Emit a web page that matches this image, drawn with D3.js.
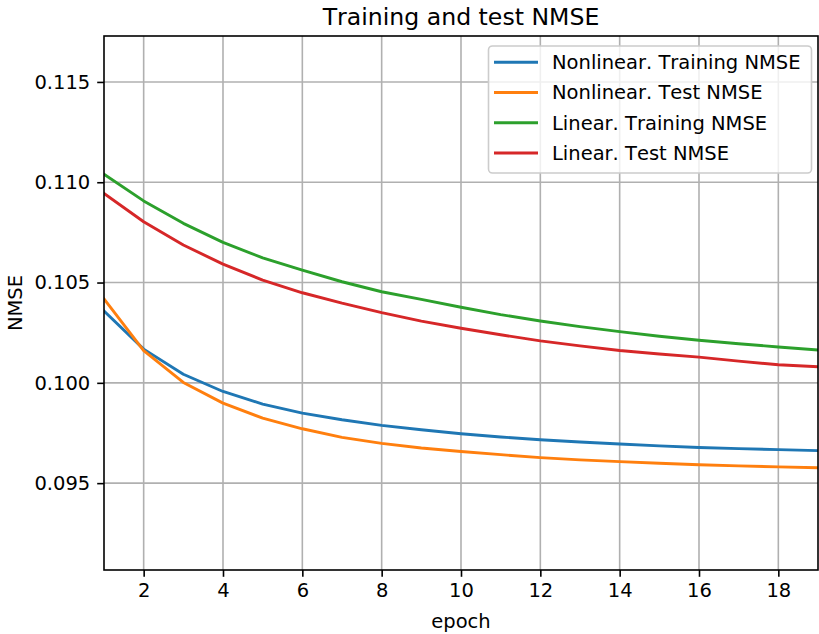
<!DOCTYPE html>
<html>
<head>
<meta charset="utf-8">
<script src="https://cdn.jsdelivr.net/npm/d3@7"></script>
<style>
  html, body { margin: 0; padding: 0; background: #fff; }
  svg { display: block; font-family: "DejaVu Sans", sans-serif; font-kerning: none; }
</style>
</head>
<body>
<svg id="chart" width="819" height="634"></svg>
<script>
// Epochs and per-epoch NMSE for each model / split
const epochs = [1, 2, 3, 4, 5, 6, 7, 8, 9, 10, 11, 12, 13, 14, 15, 16, 17, 18, 19];
const nonlinearTrain = [0.10358, 0.10168, 0.10043, 0.09957, 0.09894, 0.09849, 0.09816, 0.09788, 0.09766, 0.09746,
                        0.09730, 0.09716, 0.09705, 0.09695, 0.09686, 0.09678, 0.09672, 0.09667, 0.09662];
const nonlinearTest  = [0.10418, 0.10161, 0.10002, 0.09899, 0.09824, 0.09771, 0.09728, 0.09698, 0.09675, 0.09658,
                        0.09642, 0.09627, 0.09616, 0.09607, 0.09599, 0.09592, 0.09586, 0.09581, 0.09577];
const linearTrain    = [0.11040, 0.10907, 0.10795, 0.10700, 0.10623, 0.10562, 0.10504, 0.10454, 0.10416, 0.10377,
                        0.10340, 0.10308, 0.10280, 0.10255, 0.10232, 0.10212, 0.10195, 0.10179, 0.10164];
const linearTest     = [0.10944, 0.10803, 0.10687, 0.10592, 0.10512, 0.10449, 0.10397, 0.10350, 0.10308, 0.10272,
                        0.10240, 0.10209, 0.10184, 0.10161, 0.10144, 0.10128, 0.10108, 0.10090, 0.10080];
const seriesNames = ["Nonlinear. Training NMSE", "Nonlinear. Test NMSE", "Linear. Training NMSE", "Linear. Test NMSE"];
const seriesColors = ["#1f77b4", "#ff7f0e", "#2ca02c", "#d62728"];
const xTicks = [2, 4, 6, 8, 10, 12, 14, 16, 18];
const yTicks = [0.095, 0.100, 0.105, 0.110, 0.115];

const series = [nonlinearTrain, nonlinearTest, linearTrain, linearTest].map((vals, i) => ({
  name: seriesNames[i], color: seriesColors[i], values: vals
}));

const svg = d3.select("#chart");
const plot = { left: 104, right: 818, top: 36, bottom: 570 };

const x = d3.scaleLinear().domain([1, 19]).range([plot.left, plot.right]);
const y = d3.scaleLinear().domain([0.09067, 0.11729]).range([plot.bottom, plot.top]);

const fontSize = 19.5;

// grid
const grid = svg.append("g");
grid.selectAll(".gx").data(xTicks).enter().append("line")
  .attr("x1", d => x(d)).attr("x2", d => x(d))
  .attr("y1", plot.top).attr("y2", plot.bottom)
  .attr("stroke", "#b0b0b0").attr("stroke-width", 1.6);
grid.selectAll(".gy").data(yTicks).enter().append("line")
  .attr("x1", plot.left).attr("x2", plot.right)
  .attr("y1", d => y(d)).attr("y2", d => y(d))
  .attr("stroke", "#b0b0b0").attr("stroke-width", 1.6);

// series lines
const clipId = "plot-clip";
svg.append("clipPath").attr("id", clipId).append("rect")
  .attr("x", plot.left).attr("y", plot.top)
  .attr("width", plot.right - plot.left).attr("height", plot.bottom - plot.top);

const line = d3.line().x((d, i) => x(epochs[i])).y(d => y(d));
svg.append("g").attr("clip-path", `url(#${clipId})`)
  .selectAll("path").data(series).enter().append("path")
  .attr("d", d => line(d.values))
  .attr("fill", "none")
  .attr("stroke", d => d.color)
  .attr("stroke-width", 2.9)
  .attr("stroke-linejoin", "round")
  .attr("stroke-linecap", "square");

// axes
const xAxis = d3.axisBottom(x).tickValues(xTicks).tickFormat(d3.format("d")).tickSize(6.8).tickPadding(6);
const yAxis = d3.axisLeft(y).tickValues(yTicks).tickFormat(d3.format(".3f")).tickSize(6.8).tickPadding(7);

const gx = svg.append("g").attr("transform", `translate(0,${plot.bottom})`).call(xAxis);
const gy = svg.append("g").attr("transform", `translate(${plot.left},0)`).call(yAxis);
[gx, gy].forEach(g => {
  g.select(".domain").remove();
  g.selectAll(".tick line").attr("stroke", "#000").attr("stroke-width", 1.6);
  g.selectAll(".tick text").attr("fill", "#000")
    .style("font-size", fontSize + "px").style("font-family", "DejaVu Sans, sans-serif");
});

// frame
svg.append("rect")
  .attr("x", plot.left).attr("y", plot.top)
  .attr("width", plot.right - plot.left).attr("height", plot.bottom - plot.top)
  .attr("fill", "none").attr("stroke", "#000").attr("stroke-width", 1.6);

// title and axis labels
svg.append("text").attr("x", (plot.left + plot.right) / 2).attr("y", 25)
  .attr("text-anchor", "middle").style("font-size", "23.6px").text("Training and test NMSE");
svg.append("text").attr("x", (plot.left + plot.right) / 2).attr("y", 628)
  .attr("text-anchor", "middle").style("font-size", fontSize + "px").text("epoch");
svg.append("text")
  .attr("transform", `translate(22,${(plot.top + plot.bottom) / 2}) rotate(-90)`)
  .attr("text-anchor", "middle").style("font-size", fontSize + "px").text("NMSE");

// legend
const legend = svg.append("g");
legend.append("rect")
  .attr("x", 488.5).attr("y", 46).attr("width", 323).attr("height", 127)
  .attr("rx", 4).attr("ry", 4)
  .attr("fill", "rgba(255,255,255,0.8)").attr("stroke", "#cccccc").attr("stroke-width", 1.6);
const rowY = d3.scaleLinear().domain([0, 3]).range([62.3, 153]);
const items = legend.selectAll(".item").data(series).enter().append("g");
items.append("line")
  .attr("x1", 494).attr("x2", 538)
  .attr("y1", (d, i) => rowY(i)).attr("y2", (d, i) => rowY(i))
  .attr("stroke", d => d.color).attr("stroke-width", 2.9);
items.append("text")
  .attr("x", 552).attr("y", (d, i) => rowY(i)).attr("dy", "0.35em")
  .style("font-size", fontSize + "px").text(d => d.name);
</script>
</body>
</html>
